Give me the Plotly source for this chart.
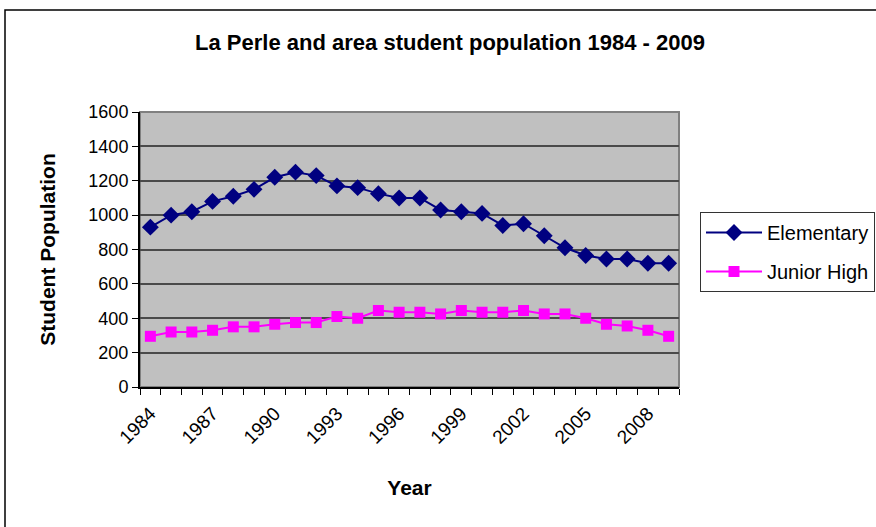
import plotly.graph_objects as go

years = list(range(1984, 2010))
elementary = [930, 1000, 1020, 1080, 1110, 1150, 1220, 1250, 1230, 1170, 1160, 1125,
              1100, 1100, 1030, 1020, 1010, 940, 950, 880, 810, 765, 745, 745, 720, 720]
junior_high = [295, 320, 320, 330, 350, 350, 365, 375, 375, 410, 400, 445,
               435, 435, 425, 445, 435, 435, 445, 425, 425, 400, 365, 355, 330, 295]
label_years = [1984, 1987, 1990, 1993, 1996, 1999, 2002, 2005, 2008]
y_ticks = [0, 200, 400, 600, 800, 1000, 1200, 1400, 1600]

W, H = 876, 527
L, R, T, B = 140, 679, 112, 387
pw, ph = R - L, B - T


def px_x(v):
    return (v - L) / pw


def px_y(v):
    return (B - v) / ph


FONT = "Liberation Sans, Arial, sans-serif"

fig = go.Figure()
fig.add_trace(go.Scatter(
    x=years, y=elementary, name="Elementary", mode="lines+markers",
    legendgroup="a",
    line=dict(color="#000080", width=2),
    marker=dict(symbol="diamond", size=13, color="#000080"),
))
fig.add_trace(go.Scatter(
    x=years, y=junior_high, name="Junior High", mode="lines+markers",
    legendgroup="b",
    line=dict(color="#FF00FF", width=2),
    marker=dict(symbol="square", size=11, color="#FF00FF"),
))

fig.update_layout(
    width=W, height=H,
    margin=dict(l=L, r=W - R, t=T, b=H - B, pad=0, autoexpand=False),
    paper_bgcolor="white", plot_bgcolor="#C0C0C0",
    font=dict(family=FONT, color="black", size=18),
    title=dict(text="<b>La Perle and area student population 1984 - 2009</b>",
               x=px_x(450), xref="paper", xanchor="center",
               y=1 - 42 / H, yref="container", yanchor="middle",
               font=dict(size=22, family=FONT)),
    showlegend=True,
    legend=dict(x=px_x(700), y=px_y(212), xanchor="left", yanchor="top",
                bordercolor="#333333", borderwidth=1, bgcolor="white",
                font=dict(size=20, family=FONT), itemwidth=56,
                tracegroupgap=10),
)

fig.update_xaxes(
    range=[1983.5, 2009.5], tickmode="array", tickvals=label_years,
    ticktext=[str(y) for y in label_years], tickangle=-45, ticks="",
    showgrid=False, zeroline=False, showline=True, linecolor="black", linewidth=2,
    tickfont=dict(size=19), ticklabelstandoff=6,
    minor=dict(tickmode="array", tickvals=[y - 0.5 for y in years] + [2009.5],
               ticks="outside", ticklen=6, tickcolor="black", tickwidth=1, showgrid=False),
    title=dict(text="<b>Year</b>", font=dict(size=21), standoff=34),
)
fig.update_yaxes(
    range=[0, 1600], tickmode="array", tickvals=y_ticks,
    ticks="outside", ticklen=6, tickcolor="black",
    showgrid=True, gridcolor="#4a4a4a", gridwidth=1.5,
    zeroline=False, showline=True, linecolor="black", linewidth=2,
    tickfont=dict(size=18),
    title=dict(text="<b>Student Population</b>", font=dict(size=21), standoff=27),
)

# plot area border (top/right in gray)
fig.add_shape(type="rect", xref="paper", yref="paper", x0=0, x1=1, y0=0, y1=1,
              line=dict(color="#808080", width=2), layer="below")
# outer chart border
fig.add_shape(type="rect", xref="paper", yref="paper",
              x0=px_x(5), x1=px_x(900), y0=px_y(560), y1=px_y(10),
              line=dict(color="black", width=1.5))

fig.write_html("out.html", config={"displayModeBar": False},
               post_script="document.body.style.margin='0';")
